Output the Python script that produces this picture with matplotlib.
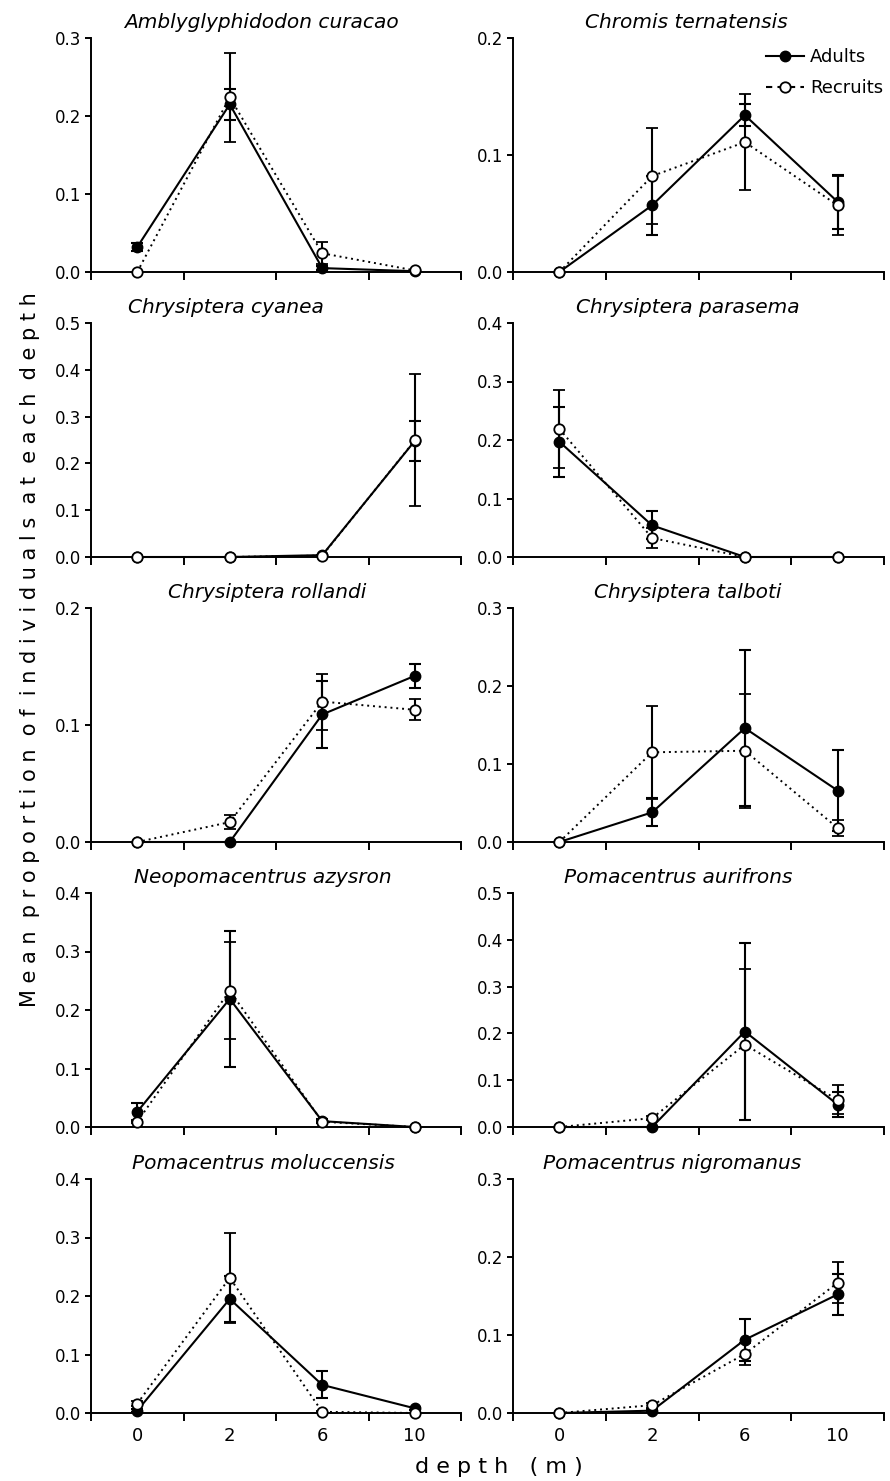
import matplotlib
matplotlib.use("Agg")
import matplotlib.pyplot as plt
from matplotlib.lines import Line2D
import numpy as np

plt.rcParams['font.family'] = ['DejaVu Sans']

species = ["Amblyglyphidodon curacao", "Chromis ternatensis",
           "Chrysiptera cyanea", "Chrysiptera parasema",
           "Chrysiptera rollandi", "Chrysiptera talboti",
           "Neopomacentrus azysron", "Pomacentrus aurifrons",
           "Pomacentrus moluccensis", "Pomacentrus nigromanus"]
depth_labels = ["0", "2", "6", "10"]
y_max = [0.3, 0.2, 0.5, 0.4, 0.2, 0.3, 0.4, 0.5, 0.4, 0.3]

adult_mean = [
    [0.032, 0.215, 0.005, 0.001],
    [0.0, 0.057, 0.134, 0.060],
    [0.0, 0.0, 0.004, 0.248],
    [0.197, 0.054, 0.0, 0.0],
    [0.0, 0.0, 0.109, 0.142],
    [0.0, 0.038, 0.146, 0.066],
    [0.026, 0.219, 0.010, 0.0],
    [0.0, 0.0, 0.204, 0.048],
    [0.004, 0.195, 0.048, 0.008],
    [0.0, 0.003, 0.094, 0.152],
]
adult_se = [
    [0.005, 0.020, 0.003, 0.0],
    [0.0, 0.025, 0.0095, 0.023],
    [0.0, 0.0, 0.0, 0.043],
    [0.060, 0.024, 0.0, 0.0],
    [0.0, 0.0, 0.029, 0.010],
    [0.0, 0.018, 0.100, 0.052],
    [0.015, 0.116, 0.003, 0.0],
    [0.0, 0.0, 0.190, 0.026],
    [0.002, 0.040, 0.023, 0.003],
    [0.0, 0.002, 0.027, 0.026],
]
recruit_mean = [
    [0.0, 0.224, 0.024, 0.002],
    [0.0, 0.082, 0.111, 0.057],
    [0.0, 0.0, 0.003, 0.249],
    [0.219, 0.0325, 0.0, 0.0],
    [0.0, 0.017, 0.120, 0.113],
    [0.0, 0.115, 0.117, 0.018],
    [0.009, 0.233, 0.009, 0.0],
    [0.0, 0.019, 0.176, 0.058],
    [0.016, 0.231, 0.002, 0.0],
    [0.0, 0.010, 0.0757, 0.167],
]
recruit_se = [
    [0.0, 0.057, 0.014, 0.0],
    [0.0, 0.041, 0.041, 0.025],
    [0.0, 0.0, 0.0, 0.141],
    [0.067, 0.017, 0.0, 0.0],
    [0.0, 0.006, 0.024, 0.009],
    [0.0, 0.060, 0.073, 0.010],
    [0.003, 0.083, 0.002, 0.0],
    [0.0, 0.004, 0.162, 0.031],
    [0.004, 0.077, 0.001, 0.0],
    [0.0, 0.003, 0.014, 0.026],
]

# layout (pixels)
W, H = 890, 1481
col_x = [91, 513]
col_w = [370, 371]
row_top = [38, 323, 608, 893, 1179]
ax_h = 234
title_x = [0.462, 0.466, 0.365, 0.47, 0.476, 0.47, 0.465, 0.445, 0.465, 0.43]

fig = plt.figure(figsize=(W / 100, H / 100), dpi=100)

xpos = np.arange(len(depth_labels)) + 0.5
for i, name in enumerate(species):
    r, c = divmod(i, 2)
    ax = fig.add_axes([col_x[c] / W, 1 - (row_top[r] + ax_h) / H,
                       col_w[c] / W, ax_h / H])
    ax.errorbar(xpos, adult_mean[i], yerr=adult_se[i], color='black',
                lw=1.5, marker='o', ms=7.5, mfc='black', mec='black',
                elinewidth=1.5, capsize=4.5, capthick=1.5, clip_on=False,
                zorder=3)
    ax.errorbar(xpos, recruit_mean[i], yerr=recruit_se[i], color='black',
                lw=1.4, ls=(0, (1, 2)), marker='o', ms=7.5, mfc='white',
                mec='black', mew=1.3, elinewidth=1.5, capsize=4.5,
                capthick=1.5, clip_on=False, zorder=4)
    ax.set_xlim(0, 4)
    ax.set_ylim(0, y_max[i])
    ax.set_yticks(np.round(np.arange(0, y_max[i] + 1e-9, 0.1), 1))
    ax.yaxis.set_major_formatter(matplotlib.ticker.FormatStrFormatter('%.1f'))
    ax.set_xticks([0, 1, 2, 3, 4])
    ax.set_xticklabels([])
    ax.set_xticks(xpos, minor=True)
    if r == 4:
        ax.set_xticklabels(depth_labels, minor=True, fontsize=13)
    ax.tick_params(axis='x', which='minor', length=0, pad=10)
    ax.tick_params(axis='x', which='major', length=6, width=1.4, direction='out')
    ax.tick_params(axis='y', length=4, width=1.4, direction='out',
                   labelsize=12, pad=3)
    for s in ['top', 'right']:
        ax.spines[s].set_visible(False)
    for s in ['left', 'bottom']:
        ax.spines[s].set_linewidth(1.4)
    ax.text(title_x[i], 1 + 10 / ax_h, name, transform=ax.transAxes,
            ha='center', va='baseline', fontsize=14.5, style='italic')
    if i == 1:
        h1 = Line2D([], [], color='black', lw=1.5, marker='o', ms=7.5,
                    mfc='black', mec='black')
        h2 = Line2D([], [], color='black', lw=1.5, ls=(0, (3, 2.5)),
                    marker='o', ms=7.5, mfc='white', mec='black', mew=1.3)
        fig.legend([h1, h2], ["Adults", "Recruits"], loc='upper left',
                   bbox_to_anchor=(766 / W, 1 - 48 / H), frameon=False,
                   fontsize=13, handlelength=2.1, handletextpad=0.35,
                   labelspacing=0.72, borderpad=0, borderaxespad=0)

ylab = "M e a n  p r o p o r t i o n  o f  i n d i v i d u a l s  a t  e a c h  d e p t h"
fig.text(30 / W, 1 - 650 / H, ylab, rotation=90, ha='center', va='center',
         fontsize=15)
fig.text(499 / W, 1 - 1467 / H, "d e p t h   ( m )", ha='center',
         va='center', fontsize=16)

fig.savefig("out.png", dpi=100)
